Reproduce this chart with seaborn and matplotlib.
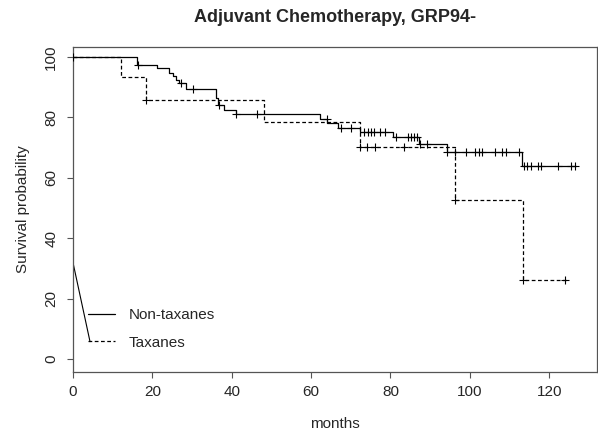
import numpy as np
import pandas as pd
import matplotlib
matplotlib.use("Agg")
import matplotlib.pyplot as plt
import seaborn as sns
from matplotlib.lines import Line2D

# --- data (months, survival %) ---
non_tax_t = [0, 16.2, 21.2, 24.2, 25.1, 25.9, 26.6, 28.4, 36.0, 36.6, 38.1, 41.2,
             62.2, 64.0, 66.9, 72.3, 80.6, 87.1, 94.2, 113.2, 126.8]
non_tax_s = [100, 97.3, 96.2, 94.7, 93.6, 92.3, 91.2, 89.3, 86.4, 84.1, 82.4, 81.0,
             79.4, 78.0, 76.6, 75.2, 73.6, 71.1, 68.5, 64.0, 64.0]
non_tax_cens = [16.5, 27.1, 30.3, 36.7, 41.2, 46.3, 63.9, 67.6, 70.1, 73.4, 74.3,
                75.1, 75.9, 77.4, 78.7, 81.4, 84.3, 85.1, 86.0, 86.8, 87.4, 89.3,
                94.3, 96.3, 99.1, 101.2, 102.2, 103.1, 106.4, 108.1, 109.0, 112.3,
                113.6, 114.4, 115.3, 117.1, 118.0, 122.2, 125.6, 126.6]

tax_t = [0, 12.0, 18.3, 48.1, 72.3, 96.2, 113.3, 124.6]
tax_s = [100, 93.2, 85.7, 78.3, 70.1, 52.7, 26.3, 26.3]
tax_cens = [0, 18.3, 72.3, 74.0, 76.1, 83.3, 96.2, 113.3, 124.1]

# stray legend connector line in the original
stray_t = [0, 4.3]
stray_s = [32, 5.8]

groups = ["Non-taxanes", "Taxanes"]


def surv_at(times, t, s):
    idx = np.searchsorted(t, times, side="right") - 1
    return np.asarray(s)[idx]


curves = pd.concat([
    pd.DataFrame({"months": non_tax_t, "surv": non_tax_s, "group": groups[0]}),
    pd.DataFrame({"months": tax_t, "surv": tax_s, "group": groups[1]}),
])
cens = pd.concat([
    pd.DataFrame({"months": non_tax_cens,
                  "surv": surv_at(non_tax_cens, non_tax_t, non_tax_s), "group": groups[0]}),
    pd.DataFrame({"months": tax_cens,
                  "surv": surv_at(tax_cens, tax_t, tax_s), "group": groups[1]}),
])

sns.set_style("white")
plt.rcParams["font.family"] = ["Liberation Sans", "DejaVu Sans"]

fig = plt.figure(figsize=(5.98, 4.37), dpi=100)
ax = fig.add_axes([0.122, 0.149, 0.876, 0.743])

styles = {groups[0]: "-", groups[1]: (0, (3, 2))}
for g in groups:
    sns.lineplot(data=curves[curves.group == g], x="months", y="surv",
                 drawstyle="steps-post", color="black", linewidth=0.9,
                 linestyle=styles[g], estimator=None, sort=False, ax=ax)
sns.scatterplot(data=cens, x="months", y="surv", marker="+", color="black",
                s=40, linewidth=0.8, legend=False, ax=ax, zorder=3)
sns.lineplot(x=stray_t, y=stray_s, color="black", linewidth=0.8, ax=ax)

ax.set_xlim(0, 132)
ax.set_ylim(-4.2, 103.2)
ax.set_xticks(range(0, 121, 20))
ax.set_yticks(range(0, 101, 20))
ax.tick_params(axis="both", direction="out", length=4.5, width=0.8,
               color="#555555", labelsize=11, left=True, bottom=True)
ax.tick_params(axis="x", pad=5)
ax.tick_params(axis="y", pad=6)
for lab in ax.get_yticklabels():
    lab.set_rotation(90)
    lab.set_va("center")
for sp in ax.spines.values():
    sp.set_color("#555555")
    sp.set_linewidth(0.9)

ax.set_xlabel("months", fontsize=11, labelpad=13)
ax.set_ylabel("Survival probability", fontsize=11, labelpad=10)
ax.set_title("Adjuvant Chemotherapy, GRP94-", fontsize=13, fontweight="bold",
             pad=18)

handles = [Line2D([], [], color="black", linewidth=0.9, linestyle="-"),
           Line2D([], [], color="black", linewidth=0.9, linestyle=(0, (3, 2)))]
ax.legend(handles, groups, loc="upper left", bbox_to_anchor=(0.028, 0.197),
          frameon=False, fontsize=11, handlelength=1.8, handletextpad=0.9,
          labelspacing=0.9, borderpad=0, borderaxespad=0)

fig.savefig("out.png", dpi=100)
